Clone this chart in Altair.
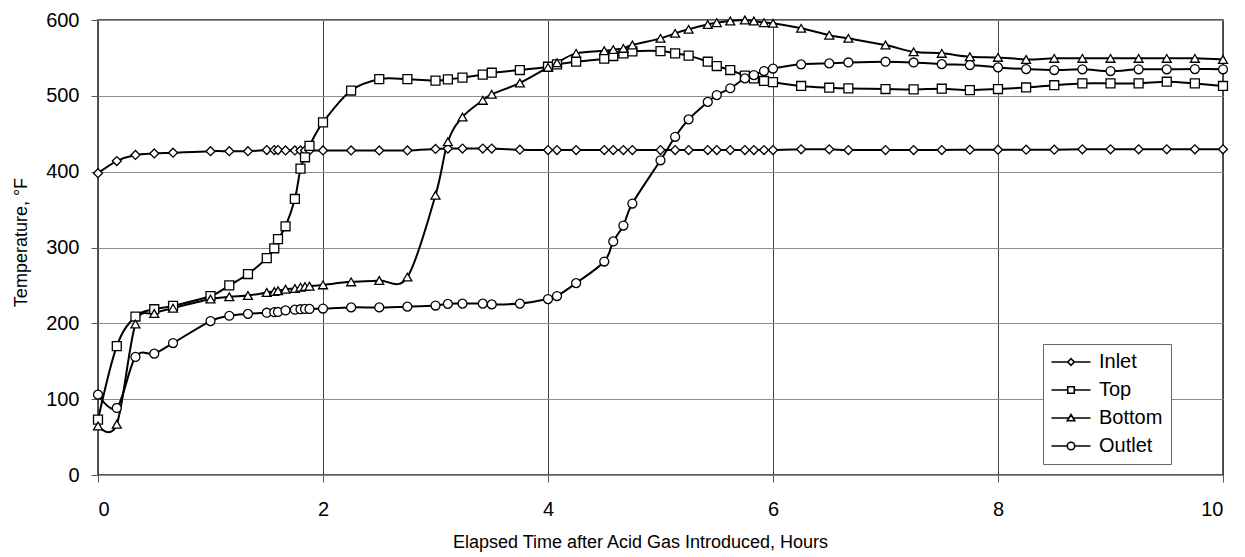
import altair as alt
import pandas as pd

hours = [0, 0.167, 0.333, 0.5, 0.667, 1.0, 1.167, 1.333, 1.5, 1.567, 1.6, 1.667, 1.75, 1.8, 1.84, 1.88, 2.0,
         2.25, 2.5, 2.75, 3.0, 3.11, 3.24, 3.42, 3.5, 3.75, 4.0, 4.08, 4.25, 4.5, 4.58, 4.67, 4.75, 5.0,
         5.13, 5.25, 5.42, 5.5, 5.62, 5.75, 5.83, 5.92, 6.0, 6.25, 6.5, 6.67, 7.0, 7.25, 7.5, 7.75,
         8.0, 8.25, 8.5, 8.75, 9.0, 9.25, 9.5, 9.75, 10.0]

inlet = [398, 414, 422, 424, 425, 427, 427, 427, 428.5, 428.5, 428.5, 428, 428, 428, 428, 428, 428,
         428, 428, 428, 430, 430.5, 430.5, 430.5, 430.5, 429, 428.5, 428.5, 428.5, 428.5, 428.5, 428.5, 428.5, 428.5,
         428.5, 428.5, 428.5, 428.5, 428.5, 428.5, 428.5, 428.5, 428.5, 429.5, 429.5, 428.5, 428.5, 428.5, 428.5, 429,
         429, 429, 429, 429.5, 429.5, 429.5, 429.5, 429.5, 429.5]

top = [73, 170, 209, 218.6, 223, 236, 250, 265, 286, 299, 311, 328, 364, 404, 419, 434, 465,
       507, 522, 522, 520, 521.7, 524, 528, 530.5, 534, 538.4, 541.5, 545, 549, 552.5, 556, 558.7, 559,
       556, 553, 545, 539.3, 534, 526.6, 523, 519.6, 518, 513, 510.7, 509.8, 509, 508.5, 509.4, 507.6,
       509, 511, 514, 516.4, 516.4, 516.4, 518.6, 516.4, 513]

bottom = [64.7, 67, 199, 213, 220, 232, 235, 236.7, 240.6, 242, 243, 245, 246, 247.7, 248.5, 249, 250.7,
          254.7, 256.5, 261, 369, 439.5, 472, 494, 502, 517, 537.5, 543.7, 556, 559.5, 561, 562.6, 567, 575.8,
          582.4, 587.7, 594, 596.5, 598.7, 600, 598.7, 596.5, 595.6, 589, 580, 575.8, 567, 558, 556, 551.6,
          550.7, 548, 549.4, 549.4, 549.4, 549.4, 549.4, 549.4, 548]

outlet = [106, 88.4, 155.7, 160, 174, 203, 210, 212.5, 214, 214.7, 215, 217, 218, 218.6, 219, 219, 219.5,
          221, 221, 222, 223.5, 225.7, 226, 226, 225, 226, 232, 236, 253, 281.5, 308, 329, 358, 415,
          446, 469, 492, 501, 510, 523, 527.4, 532.7, 536, 541.5, 542.8, 544, 545, 544, 541.8, 540.6,
          537.5, 535.3, 534, 535, 532.7, 535, 535, 535.3, 535]

series_names = ["Inlet", "Top", "Bottom", "Outlet"]
x_ticks = [0, 2, 4, 6, 8, 10]
y_ticks = [0, 100, 200, 300, 400, 500, 600]

marker_shapes = ["diamond", "square", "triangle-up", "circle"]
marker_sizes = [80, 80, 100, 95]
legend_shapes = [
    "M-3.9,0H-0.65M0.65,0H3.9M-0.65,0L0,-0.65L0.65,0L0,0.65Z",
    "M-3.9,0H-0.65M0.65,0H3.9M-0.65,-0.65H0.65V0.65H-0.65Z",
    "M-3.9,0H-0.45M0.45,0H3.9M0,-0.7L0.75,0.55H-0.75Z",
    "M-3.9,0H-0.75M0.75,0H3.9M0.75,0A0.75,0.75,0,1,1,-0.75,0A0.75,0.75,0,1,1,0.75,0Z",
]

rows = []
for name, vals in zip(series_names, [inlet, top, bottom, outlet]):
    for h, v in zip(hours, vals):
        rows.append({"hours": h, "temp": v, "series": name})
df = pd.DataFrame(rows)

FONT = "Liberation Sans"

x_enc = alt.X(
    "hours:Q",
    scale=alt.Scale(domain=[0, 10], nice=False),
    axis=alt.Axis(
        values=x_ticks,
        title="Elapsed Time after Acid Gas Introduced, Hours",
        gridColor="#444444",
        titleX=542,
        titleY=67,
        titleBaseline="middle",
        labelPadding=17,
    ),
)
y_enc = alt.Y(
    "temp:Q",
    scale=alt.Scale(domain=[0, 600], nice=False),
    axis=alt.Axis(
        values=y_ticks,
        title="Temperature, °F",
        gridColor="#8c8c8c",
        titleX=-77,
        titleY=222,
        titleBaseline="middle",
        labelPadding=12,
    ),
)

lines = alt.Chart(df).mark_line(
    interpolate="cardinal", color="black", strokeWidth=2
).encode(x=x_enc, y=y_enc, detail="series:N")

points = alt.Chart(df).mark_point(
    filled=True, fill="white", stroke="black", strokeWidth=1.3, opacity=1
).encode(
    x=x_enc,
    y=y_enc,
    shape=alt.Shape("series:N", scale=alt.Scale(domain=series_names, range=marker_shapes), legend=None),
    size=alt.Size("series:N", scale=alt.Scale(domain=series_names, range=marker_sizes), legend=None),
)

legend_layer = alt.Chart(df).transform_filter("datum.temp < -1000").mark_point(
    filled=False, color="black", strokeWidth=1.6, opacity=1, size=100
).encode(
    x=x_enc,
    y=y_enc,
    shape=alt.Shape(
        "series:N",
        scale=alt.Scale(domain=series_names, range=legend_shapes),
        legend=alt.Legend(
            title=None,
            orient="none",
            legendX=945,
            legendY=324,
            direction="vertical",
            fillColor="white",
            strokeColor="#666666",
            padding=8,
            labelFont=FONT,
            labelFontSize=20,
            labelColor="black",
            labelLimit=300,
            symbolSize=100,
            symbolStrokeWidth=1.6,
            symbolStrokeColor="black",
            symbolOffset=10,
            labelOffset=18,
            rowPadding=8,
        ),
    ),
)

chart = (
    alt.layer(lines, points, legend_layer)
    .resolve_scale(shape="independent", size="independent")
    .properties(
        width=1125,
        height=455,
        autosize=alt.AutoSizeParams(type="none"),
        padding={"left": 90, "top": 12, "right": 14, "bottom": 80},
    )
    .configure_view(stroke="#222222", strokeWidth=1.5)
    .configure_axis(
        labelFont=FONT,
        labelFontSize=20,
        labelColor="black",
        titleFont=FONT,
        titleFontSize=18,
        titleFontWeight="normal",
        titleColor="black",
        tickSize=7,
        tickColor="#555555",
        domain=False,
        grid=True,
        gridWidth=1,
    )
)

chart.save("out.html", embed_options={"renderer": "svg", "actions": False})
